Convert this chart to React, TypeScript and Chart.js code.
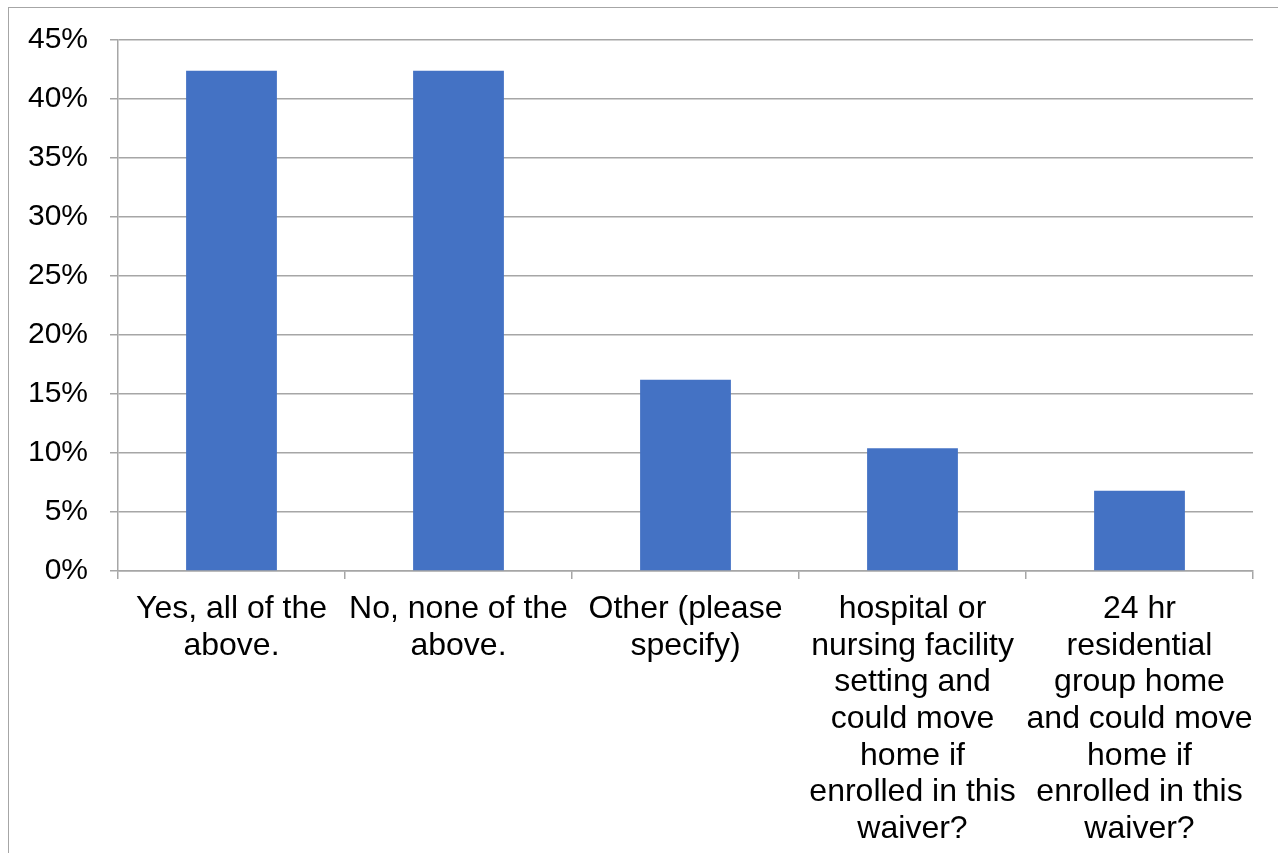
import React, { useEffect, useRef } from "react";
import { Chart, registerables } from "chart.js";

Chart.register(...registerables);

const categories: string[][] = [
  ["Yes, all of the", "above."],
  ["No, none of the", "above."],
  ["Other (please", "specify)"],
  ["hospital or", "nursing facility", "setting and", "could move", "home if", "enrolled in this", "waiver?"],
  ["24 hr", "residential", "group home", "and could move", "home if", "enrolled in this", "waiver?"],
];
const values: number[] = [42.4, 42.4, 16.2, 10.4, 6.8];
const yTicks: number[] = [0, 5, 10, 15, 20, 25, 30, 35, 40, 45];

export default function App() {
  const ref = useRef<HTMLCanvasElement>(null);
  useEffect(() => {
    document.body.style.margin = "0";
    const family = "'Liberation Sans', Arial, sans-serif";
    const chart = new Chart(ref.current!, {
      type: "bar",
      data: {
        labels: categories,
        datasets: [
          {
            data: values,
            backgroundColor: "#4472C4",
            borderWidth: 0,
            barPercentage: 0.4,
            categoryPercentage: 1,
          },
        ],
      },
      options: {
        animation: false,
        responsive: false,
        maintainAspectRatio: false,
        layout: { padding: { left: 0, right: 24, top: 32, bottom: 0 } },
        plugins: { legend: { display: false }, tooltip: { enabled: false } },
        scales: {
          x: {
            offset: true,
            grid: {
              offset: true,
              drawOnChartArea: false,
              drawTicks: true,
              tickLength: 8,
              color: "#a6a6a6",
              lineWidth: 1.5,
            },
            border: { display: true, color: "#a6a6a6", width: 1.5 },
            ticks: {
              color: "#000",
              font: { family, size: 32, lineHeight: 1.145 },
              autoSkip: false,
              maxRotation: 0,
              minRotation: 0,
              padding: 12,
            },
            afterFit: (s: any) => {
              s.height = 281;
              s.paddingLeft = 0;
              s.paddingRight = 0;
            },
          },
          y: {
            min: 0,
            max: 45,
            afterBuildTicks: (s: any) => {
              s.ticks = yTicks.map((v) => ({ value: v }));
            },
            grid: { color: "#a6a6a6", lineWidth: 1.5, tickLength: 8 },
            border: { display: true, color: "#a6a6a6", width: 1.5 },
            ticks: {
              color: "#000",
              font: { family, size: 30 },
              padding: 22,
              callback: (v: any) => `${v}%`,
            },
            afterFit: (s: any) => {
              s.width = 109;
              s.paddingTop = 0;
              s.paddingBottom = 0;
            },
          },
        },
      },
    });
    return () => chart.destroy();
  }, []);
  return (
    <div
      style={{
        position: "absolute",
        left: 8,
        top: 7,
        width: 1270,
        height: 846,
        borderTop: "1.5px solid #a6a6a6",
        borderLeft: "1.5px solid #a6a6a6",
        boxSizing: "border-box",
        background: "#fff",
      }}
    >
      <canvas ref={ref} width={1268} height={844} style={{ display: "block" }} />
    </div>
  );
}
